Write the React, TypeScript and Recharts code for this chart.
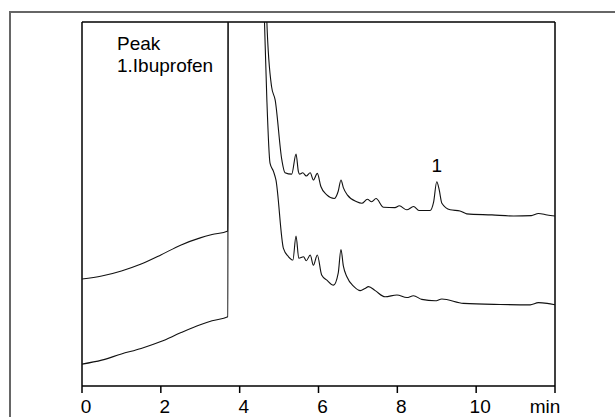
import React from "react";
import { LineChart, Line, XAxis, YAxis, ReferenceLine, ReferenceDot } from "recharts";

// retention times (min) and detector response (arbitrary units, 0-100 = plot height)
const upperT = [0, 0.5, 1, 1.5, 2, 2.5, 3, 3.3, 3.7, 3.71, 4.6, 4.66, 4.69, 4.81, 4.9, 5.07, 5.15, 5.32, 5.43, 5.49, 5.52, 5.6, 5.69, 5.79, 5.87, 5.97, 6.06, 6.21, 6.4, 6.5, 6.57, 6.63, 6.73, 6.97, 7.1, 7.24, 7.35, 7.46, 7.65, 7.94, 8.05, 8.24, 8.41, 8.56, 8.83, 8.92, 9.0, 9.06, 9.13, 9.34, 9.59, 9.76, 10.4, 10.95, 11.4, 11.58, 11.8, 12.0];
const upperV = [29.4, 30.2, 31.6, 33.5, 36.0, 38.7, 40.7, 41.6, 42.6, 130, 130, 110, 100, 82.2, 78.6, 62.1, 58.6, 58.2, 63.7, 58.9, 58.2, 58.6, 57.7, 58.6, 56.6, 58.4, 54.8, 52.5, 51.5, 53.5, 56.6, 54.5, 52.5, 50.6, 50.2, 51.3, 50.6, 51.5, 49.1, 49.0, 49.5, 48.4, 49.3, 48.2, 48.2, 50.5, 56.1, 54.0, 50.2, 48.4, 48.1, 47.3, 47.0, 46.7, 46.8, 47.4, 47.0, 46.7];

const lowerT = [0, 0.5, 1, 1.5, 2, 2.5, 3, 3.3, 3.7, 3.71, 4.55, 4.63, 4.69, 4.77, 4.86, 4.92, 5.11, 5.24, 5.35, 5.43, 5.5, 5.62, 5.69, 5.79, 5.87, 5.97, 6.08, 6.22, 6.38, 6.5, 6.57, 6.63, 6.72, 6.9, 7.06, 7.18, 7.27, 7.44, 7.69, 7.99, 8.24, 8.41, 8.62, 8.96, 9.13, 9.68, 10.61, 11.37, 11.58, 11.8, 12.0];
const lowerV = [6.0, 7.1, 8.8, 10.3, 12.2, 14.6, 16.8, 17.9, 19.0, 130, 130, 100, 78.6, 61.2, 58.9, 56.6, 37.8, 35.5, 34.6, 41.2, 35.1, 35.5, 34.4, 36.0, 33.2, 36.0, 30.5, 29.0, 27.7, 31.0, 37.5, 33.0, 30.0, 27.3, 26.2, 26.8, 27.3, 26.2, 24.5, 25.0, 24.3, 24.8, 23.8, 23.4, 23.9, 22.7, 22.4, 22.3, 22.9, 22.7, 22.3];

const xTicks = [0, 2, 4, 6, 8, 10, 12];
const xTickLabels = ["0", "2", "4", "6", "8", "10", "min"];

const peakLabels = [{ t: 9.0, v: 56.1, name: "1" }];
const legendLines = ["Peak", "1.Ibuprofen"];

const upperData = upperT.map((t, i) => ({ t, v: upperV[i] }));
const lowerData = lowerT.map((t, i) => ({ t, v: lowerV[i] }));

const FONT = "'Liberation Sans', Arial, sans-serif";

const XTick = (props: any) => {
  const { x, y, payload } = props;
  const idx = xTicks.indexOf(payload.value);
  const label = xTickLabels[idx] ?? String(payload.value);
  const shift = label === "min" ? -10 : 4;
  return (
    <text x={x + shift} y={y} dy={18} textAnchor="middle" fontSize={19} fontFamily={FONT} fill="#000">
      {label}
    </text>
  );
};

export default function App() {
  return (
    <div style={{ position: "absolute", left: 0, top: 0, width: 615, height: 417, overflow: "hidden", background: "#fff" }}>
      <div style={{ position: "absolute", left: 0, top: 0 }}>
        <LineChart width={615} height={417} margin={{ top: 22, right: 60, left: 82, bottom: 1 }}>
          <XAxis
            type="number"
            dataKey="t"
            domain={[0, 12]}
            ticks={xTicks}
            height={30}
            tickSize={7}
            tickMargin={2}
            tick={<XTick />}
            stroke="#000"
            strokeWidth={1.5}
            allowDataOverflow
          />
          <YAxis type="number" dataKey="v" domain={[0, 100]} hide allowDataOverflow />
          <ReferenceLine y={100} stroke="#000" strokeWidth={1.5} />
          <ReferenceLine x={0} stroke="#000" strokeWidth={1.5} />
          <ReferenceLine x={12} stroke="#000" strokeWidth={1.5} />
          <Line data={upperData} dataKey="v" type="monotone" stroke="#111" strokeWidth={1.1} dot={false} isAnimationActive={false} />
          <Line data={lowerData} dataKey="v" type="monotone" stroke="#111" strokeWidth={1.1} dot={false} isAnimationActive={false} />
          {peakLabels.map((p) => (
            <ReferenceDot
              key={p.name}
              x={p.t}
              y={p.v}
              r={0}
              shape={(s: any) => (
                <text x={s.cx} y={s.cy - 10} textAnchor="middle" fontSize={19} fontFamily={FONT} fill="#000">
                  {p.name}
                </text>
              )}
            />
          ))}
        </LineChart>
      </div>
      <div style={{ position: "absolute", left: 117, top: 33, fontFamily: FONT, fontSize: 19, lineHeight: "22px", color: "#000" }}>
        {legendLines.map((l) => (
          <div key={l}>{l}</div>
        ))}
      </div>
      {/* outer figure frame, cut off at the right and bottom */}
      <div style={{ position: "absolute", left: 9, top: 11, width: 606, height: 2, background: "#666" }} />
      <div style={{ position: "absolute", left: 9, top: 11, width: 2, height: 406, background: "#666" }} />
    </div>
  );
}
